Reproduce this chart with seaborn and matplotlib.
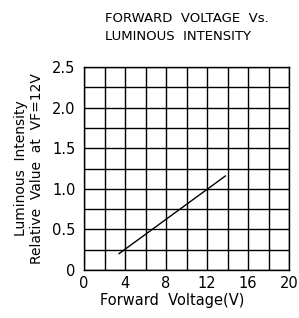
import numpy as np
import pandas as pd
import seaborn as sns
import matplotlib.pyplot as plt

# Curve
forward_voltage = [3.4, 13.8]
luminous_intensity = [0.2, 1.16]

x_ticks = [0, 4, 8, 12, 16, 20]
y_ticks = [0, 0.5, 1.0, 1.5, 2.0, 2.5]
y_tick_labels = ['0', '0.5', '1.0', '1.5', '2.0', '2.5']

df = pd.DataFrame({'vf': forward_voltage, 'iv': luminous_intensity})

sns.set_style('white')
plt.rcParams['font.family'] = ['DejaVu Sans']
plt.rcParams['text.color'] = 'black'
plt.rcParams['axes.labelcolor'] = 'black'

fig = plt.figure(figsize=(2.99, 3.18), dpi=100)
ax = fig.add_axes([0.281, 0.151, 0.686, 0.638])

sns.lineplot(data=df, x='vf', y='iv', color='black', linewidth=1, ax=ax)

ax.set_xlim(0, 20)
ax.set_ylim(0, 2.5)
# 10 x 10 grid
for gx in np.arange(0, 20.1, 2):
    ax.axvline(gx, color='black', linewidth=1, zorder=0)
for gy in np.arange(0, 2.51, 0.25):
    ax.axhline(gy, color='black', linewidth=1, zorder=0)
for s in ax.spines.values():
    s.set_color('black')
    s.set_linewidth(1)

ax.set_xticks(x_ticks)
ax.set_yticks(y_ticks)
ax.set_yticklabels(y_tick_labels)
ax.tick_params(length=0, labelsize=10.5, colors='black')
ax.tick_params(axis='x', pad=4)
ax.tick_params(axis='y', pad=6)

ax.set_xlabel('Forward  Voltage(V)', fontsize=10.5)
ax.xaxis.set_label_coords(0.43, -0.115)
ax.set_ylabel('Luminous  Intensity\nRelative  Value  at  VF=12V', fontsize=10, labelpad=6)

fig.text(0.351, 0.962, 'FORWARD  VOLTAGE  Vs.\nLUMINOUS  INTENSITY', ha='left', va='top',
         fontsize=9.5, linespacing=1.45)

fig.savefig('out.png', dpi=100)
